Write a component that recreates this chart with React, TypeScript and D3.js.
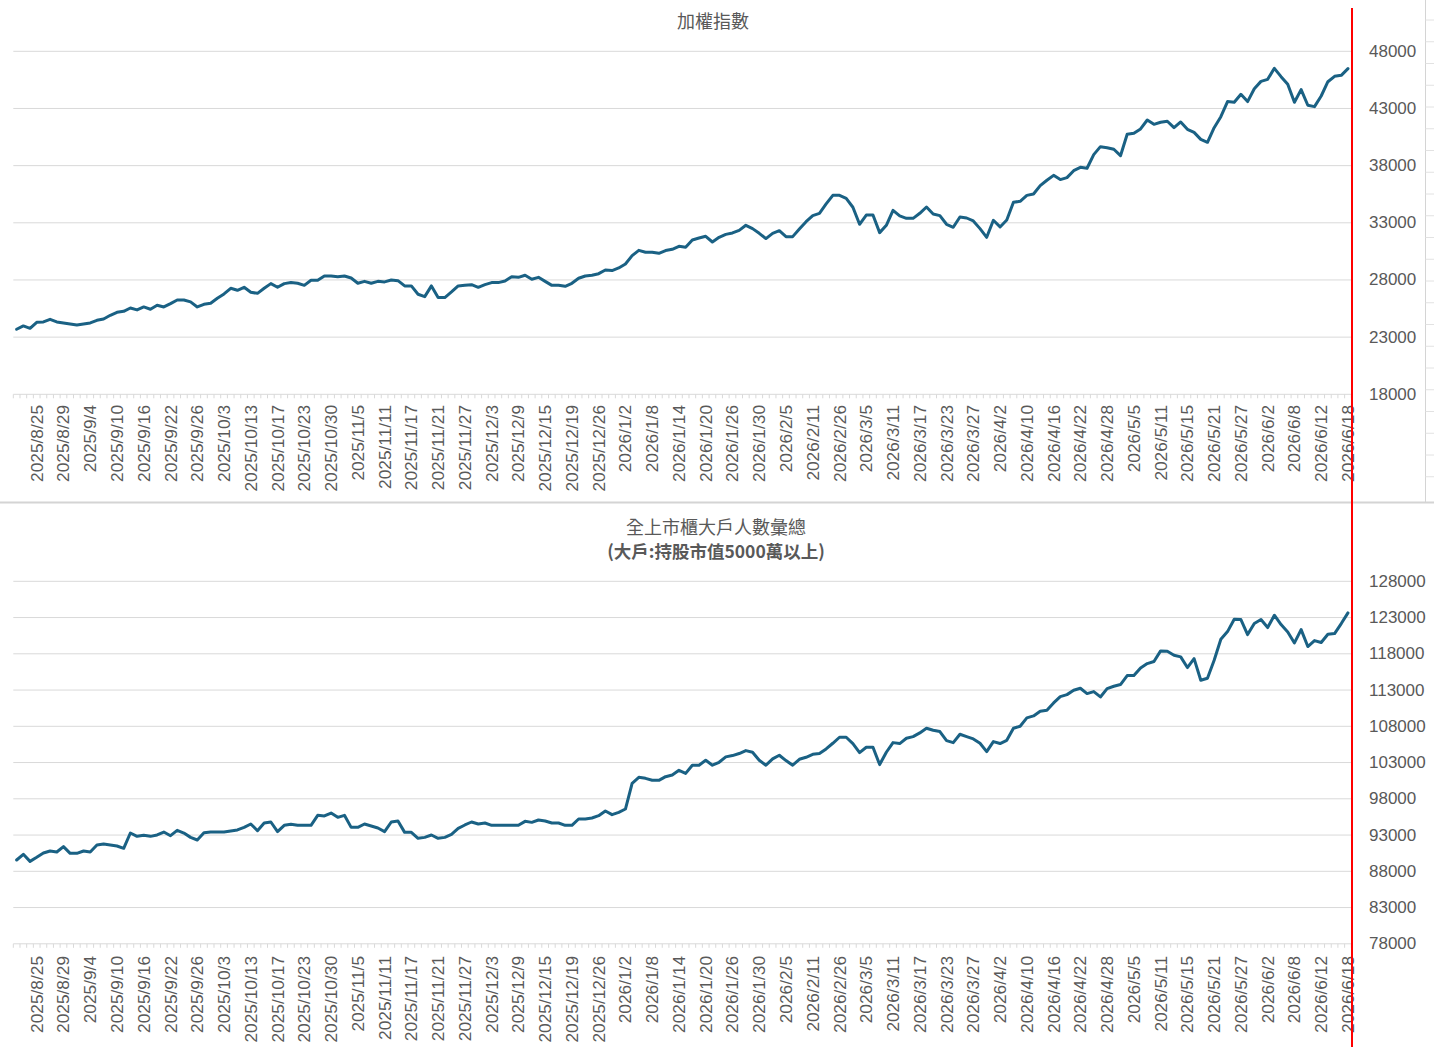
import React from "react";
import * as d3 from "d3";

// ---- Data ----
const tickLabels: string[] = [
  "2025/8/25", "2025/8/29", "2025/9/4", "2025/9/10", "2025/9/16", "2025/9/22", "2025/9/26",
  "2025/10/3", "2025/10/13", "2025/10/17", "2025/10/23", "2025/10/30", "2025/11/5",
  "2025/11/11", "2025/11/17", "2025/11/21", "2025/11/27", "2025/12/3", "2025/12/9",
  "2025/12/15", "2025/12/19", "2025/12/26", "2026/1/2", "2026/1/8", "2026/1/14",
  "2026/1/20", "2026/1/26", "2026/1/30", "2026/2/5", "2026/2/11", "2026/2/26", "2026/3/5",
  "2026/3/11", "2026/3/17", "2026/3/23", "2026/3/27", "2026/4/2", "2026/4/10", "2026/4/16",
  "2026/4/22", "2026/4/28", "2026/5/5", "2026/5/11", "2026/5/15", "2026/5/21", "2026/5/27",
  "2026/6/2", "2026/6/8", "2026/6/12", "2026/6/18",
];

const taiexValues: number[] = [
  23690, 23980, 23770, 24300, 24330, 24560, 24330, 24240, 24150, 24060,
  24150, 24240, 24470, 24590, 24910, 25170, 25260, 25550, 25380, 25640,
  25440, 25790, 25640, 25930, 26250, 26250, 26080, 25640, 25870, 25960,
  26400, 26780, 27270, 27100, 27360, 26920, 26830, 27270, 27680, 27360,
  27680, 27770, 27710, 27530, 27970, 27970, 28350, 28350, 28290, 28350,
  28170, 27710, 27880, 27710, 27880, 27830, 28000, 27940, 27480, 27480,
  26750, 26540, 27480, 26460, 26460, 26950, 27480, 27530, 27590, 27360,
  27590, 27770, 27770, 27910, 28290, 28230, 28410, 28060, 28230, 27880,
  27530, 27530, 27450, 27710, 28150, 28350, 28410, 28550, 28870, 28820,
  29050, 29400, 30130, 30590, 30420, 30420, 30330, 30570, 30680, 30940,
  30860, 31500, 31670, 31820, 31320, 31730, 31990, 32110, 32340, 32780,
  32490, 32080, 31620, 32080, 32310, 31790, 31790, 32460, 33100, 33630,
  33830, 34650, 35400, 35400, 35140, 34360, 32870, 33680, 33680, 32140,
  32780, 34090, 33600, 33390, 33390, 33830, 34380, 33770, 33630, 32870,
  32610, 33510, 33420, 33160, 32490, 31730, 33220, 32640, 33250, 34790,
  34880, 35400, 35520, 36250, 36720, 37150, 36780, 36950, 37560, 37850,
  37770, 38960, 39660, 39570, 39430, 38870, 40740, 40830, 41210, 41990,
  41610, 41790, 41880, 41320, 41820, 41180, 40910, 40300, 40040, 41320,
  42280, 43600, 43540, 44240, 43600, 44730, 45370, 45550, 46510, 45780,
  45110, 43540, 44650, 43280, 43160, 44090, 45340, 45810, 45900, 46480,
];

const holderValues: number[] = [
  89560, 90340, 89370, 89930, 90520, 90800, 90660, 91400, 90480, 90480,
  90800, 90660, 91630, 91770, 91630, 91490, 91170, 93280, 92820, 92960,
  92820, 93010, 93420, 92910, 93650, 93280, 92680, 92320, 93330, 93420,
  93420, 93420, 93560, 93700, 94060, 94520, 93600, 94660, 94800, 93470,
  94340, 94480, 94340, 94340, 94340, 95720, 95630, 96040, 95440, 95720,
  94060, 94060, 94520, 94250, 93970, 93470, 94800, 94940, 93370, 93370,
  92550, 92680, 93010, 92550, 92680, 93100, 93930, 94390, 94800, 94520,
  94660, 94340, 94340, 94340, 94340, 94340, 94890, 94750, 95080, 94940,
  94660, 94660, 94340, 94340, 95210, 95210, 95350, 95670, 96320, 95810,
  96130, 96590, 100130, 100960, 100820, 100550, 100550, 101050, 101280, 101930,
  101500, 102630, 102630, 103320, 102630, 103040, 103780, 103960, 104240, 104650,
  104420, 103320, 102630, 103500, 104010, 103270, 102630, 103450, 103730, 104140,
  104240, 104880, 105660, 106490, 106490, 105620, 104370, 105110, 105110, 102720,
  104420, 105750, 105620, 106350, 106580, 107090, 107730, 107450, 107270, 106030,
  105750, 106900, 106580, 106260, 105660, 104510, 105890, 105620, 106070, 107730,
  108010, 109160, 109430, 110080, 110210, 111220, 112100, 112370, 112970, 113250,
  112510, 112790, 112050, 113200, 113520, 113760, 115000, 115000, 116050, 116650,
  116930, 118400, 118350, 117800, 117570, 116100, 117340, 114350, 114630, 117110,
  120010, 121060, 122770, 122720, 120650, 122170, 122720, 121620, 123320, 122030,
  121020, 119500, 121340, 119000, 119820, 119550, 120700, 120790, 122170, 123640,
];

const taiexTicks: number[] = [18000, 23000, 28000, 33000, 38000, 43000, 48000];
const holderTicks: number[] = [78000, 83000, 88000, 93000, 98000, 103000, 108000, 113000, 118000, 123000, 128000];

const title1 = "加權指數";
const title2a = "全上市櫃大戶人數彙總";
const title2b = "(大戶:持股市值5000萬以上)";

// ---- Styling ----
const W = 1434;
const H = 1047;
const LINE = "#1a6184";
const GRID = "#d9d9d9";
const TEXT = "#595959";
const FONT = "'Liberation Sans', Arial, sans-serif";
const CJK = "'Noto Sans CJK TC', 'Noto Sans CJK SC', sans-serif";
const X0 = 13.3;
const X1 = 1351.3;
const LABEL_EVERY = 4;
const LABEL_OFFSET = 3;

const idx = d3.range(taiexValues.length);
const x = d3.scaleBand<number>().domain(idx).range([X0, X1]).paddingInner(0).paddingOuter(0);
const cx = (i: number) => (x(i) as number) + x.bandwidth() / 2;

type PanelProps = {
  values: number[];
  ticks: number[];
  yBottom: number;
  yTop: number;
  labelTop: number;
};

function Panel({ values, ticks, yBottom, yTop, labelTop }: PanelProps) {
  const y = d3
    .scaleLinear()
    .domain([ticks[0], ticks[ticks.length - 1]])
    .range([yBottom, yTop]);
  const line = d3
    .line<number>()
    .x((_, i) => cx(i))
    .y((d) => y(d));
  const boundaries = d3.range(values.length + 1).map((i) => X0 + i * x.bandwidth());
  return (
    <g>
      {ticks.slice(1).map((t) => (
        <line key={"g" + t} x1={X0} x2={X1} y1={y(t)} y2={y(t)} stroke={GRID} strokeWidth={1} />
      ))}
      <line x1={X0} x2={X1} y1={yBottom} y2={yBottom} stroke={GRID} strokeWidth={1} />
      {boundaries.map((bx, i) => (
        <line key={"t" + i} x1={bx} x2={bx} y1={yBottom} y2={yBottom + 4} stroke={GRID} strokeWidth={1} />
      ))}
      {ticks.map((t) => (
        <text
          key={"y" + t}
          x={1369}
          y={y(t)}
          dominantBaseline="central"
          fontFamily={FONT}
          fontSize={17}
          fill={TEXT}
        >
          {t}
        </text>
      ))}
      {tickLabels.map((lab, k) => {
        const i = LABEL_OFFSET + k * LABEL_EVERY;
        const lx = cx(i);
        return (
          <text
            key={"x" + k}
            transform={`translate(${lx},${labelTop}) rotate(-90)`}
            textAnchor="end"
            dominantBaseline="central"
            fontFamily={FONT}
            fontSize={17.3}
            fill={TEXT}
          >
            {lab}
          </text>
        );
      })}
      <path d={line(values) || ""} fill="none" stroke={LINE} strokeWidth={3} strokeLinejoin="round" strokeLinecap="round" />
    </g>
  );
}

export default function App() {
  const rowLines = d3.range(22).map((k) => 20 + k * 21.75);
  return (
    <svg
      width={W}
      height={H}
      viewBox={`0 0 ${W} ${H}`}
      style={{ position: "absolute", left: 0, top: 0, display: "block", background: "#fff" }}
    >
      <rect x={0} y={0} width={W} height={H} fill="#fff" />
      {/* right frame of top chart area */}
      <line x1={1425.5} x2={1425.5} y1={0} y2={502} stroke="#d4d4d4" strokeWidth={1} />
      {rowLines.map((ry, k) => (
        <line key={"r" + k} x1={1425.5} x2={W} y1={ry} y2={ry} stroke="#e2e2e2" strokeWidth={1} />
      ))}
      <line x1={0} x2={W} y1={502.5} y2={502.5} stroke="#d4d4d4" strokeWidth={2} />

      <text x={713} y={20} textAnchor="middle" dominantBaseline="central" fontFamily={CJK} fontSize={18} fill={TEXT}>
        {title1}
      </text>
      <Panel values={taiexValues} ticks={taiexTicks} yBottom={394.3} yTop={51.3} labelTop={405} />

      <text x={716} y={526} textAnchor="middle" dominantBaseline="central" fontFamily={CJK} fontSize={18} fill={TEXT}>
        {title2a}
      </text>
      <text x={716} y={550} textAnchor="middle" dominantBaseline="central" fontFamily={CJK} fontSize={17.5} fontWeight="bold" fill={TEXT}>
        {title2b}
      </text>
      <Panel values={holderValues} ticks={holderTicks} yBottom={943.8} yTop={581.3} labelTop={956} />

      <line x1={1352} x2={1352} y1={8} y2={H} stroke="#ff0000" strokeWidth={2} />
    </svg>
  );
}
